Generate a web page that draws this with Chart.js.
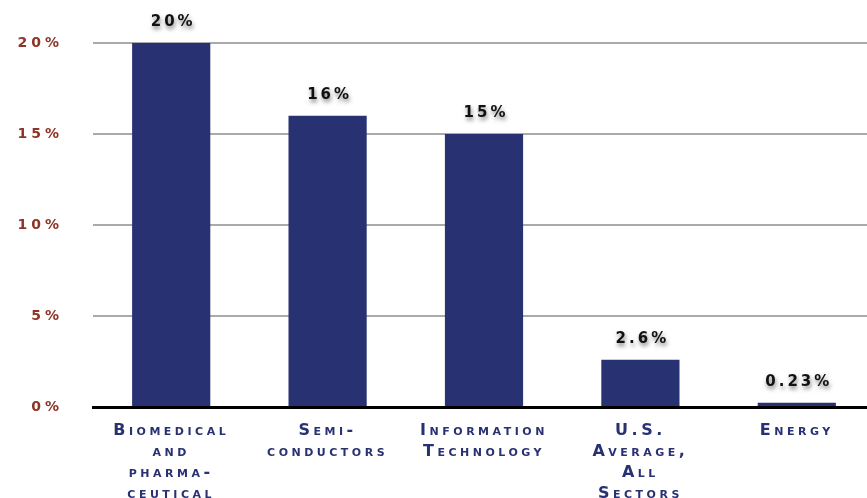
<!DOCTYPE html>
<html>
<head>
<meta charset="utf-8">
<script src="https://cdn.jsdelivr.net/npm/chart.js@4/dist/chart.umd.min.js"></script>
<style>
  html, body { margin: 0; padding: 0; background: #fff; overflow: hidden; }
  #wrap { position: relative; width: 880px; height: 498px; }
</style>
</head>
<body>
<div id="wrap"><canvas id="barChart"></canvas></div>
<script>
// data
var categories = [
	["Biomedical", "and", "pharma-", "ceutical"],
	["Semi-", "conductors"],
	["Information", "Technology"],
	["U.S.", "Average,", "All", "Sectors"],
	["Energy"]
];
var growth = [20, 16, 15, 2.6, 0.23];
var yTicks = [0, 5, 10, 15, 20];

var navy = "#283273";
var rust = "#8e3427";
var fontFace = "'DejaVu Sans', Verdana, sans-serif";

// letter spacing per axis, the original font is a wide extended face
var spacing = { x: "3.5px", y: "4px" };

var spacingPlugin = {
	id: "spacing",
	beforeDraw: function (chart) {
		Object.keys(chart.scales).forEach(function (id) {
			var s = chart.scales[id];
			if (s._spaced) return;
			var orig = s.drawLabels.bind(s);
			s.drawLabels = function (area) {
				var ctx = chart.ctx;
				var prev = ctx.letterSpacing;
				ctx.letterSpacing = spacing[id] || "0px";
				orig(area);
				ctx.letterSpacing = prev;
			};
			s._spaced = true;
		});
	}
};

// value labels above the bars, black with a soft drop shadow
var valueLabels = {
	id: "valueLabels",
	afterDatasetsDraw: function (chart) {
		var ctx = chart.ctx;
		var meta = chart.getDatasetMeta(0);
		ctx.save();
		ctx.font = "bold 15px " + fontFace;
		ctx.letterSpacing = "3px";
		ctx.fillStyle = "#111";
		ctx.textAlign = "center";
		ctx.textBaseline = "middle";
		ctx.shadowColor = "rgba(0,0,0,0.5)";
		ctx.shadowBlur = 4;
		ctx.shadowOffsetX = 1;
		ctx.shadowOffsetY = 3;
		meta.data.forEach(function (bar, i) {
			ctx.fillText(growth[i] + "%", bar.x + 2, bar.y - 21);
		});
		ctx.restore();
	}
};

var ctx = document.getElementById("barChart");

var chart = new Chart(ctx, {
	type: "bar",
	data: {
		labels: categories,
		datasets: [{
			data: growth,
			backgroundColor: navy,
			borderWidth: 0,
			barPercentage: 0.5,
			categoryPercentage: 1
		}]
	},
	options: {
		responsive: true,
		maintainAspectRatio: false,
		animation: false,
		layout: { padding: { top: 43, right: 5, left: 0, bottom: 0 } },
		plugins: {
			legend: { display: false },
			tooltip: { enabled: false }
		},
		scales: {
			x: {
				grid: { display: false, drawTicks: false },
				border: { display: true, color: "#000", width: 3 },
				ticks: {
					color: navy,
					font: { family: fontFace, size: 16, weight: "small-caps bold", lineHeight: "21px" },
					padding: 13,
					autoSkip: false,
					maxRotation: 0
				},
				afterFit: function (scale) { scale.height = 91; }
			},
			y: {
				min: 0,
				max: 20,
				afterBuildTicks: function (scale) {
					scale.ticks = yTicks.map(function (v) { return { value: v }; });
				},
				grid: {
					color: function (c) { return c.tick && c.tick.value === 0 ? "#000" : "#aaaaaa"; },
					lineWidth: 2,
					drawTicks: false
				},
				border: { display: false },
				ticks: {
					color: rust,
					font: { family: fontFace, size: 14, weight: "bold" },
					padding: 30,
					callback: function (v) { return v + "%"; }
				},
				afterFit: function (scale) { scale.width = 93; }
			}
		}
	},
	plugins: [spacingPlugin, valueLabels]
});
</script>
</body>
</html>
